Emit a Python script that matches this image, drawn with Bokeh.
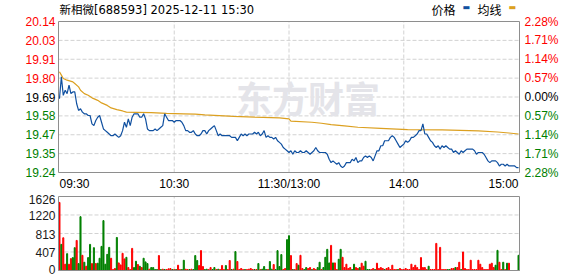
from bokeh.plotting import figure
from bokeh.models import Range1d, ColumnDataSource
from bokeh.core.properties import value
from bokeh.layouts import column
from bokeh.embed import file_html
from bokeh.resources import INLINE

# ---------------- data ----------------
title_text = "新相微[688593] 2025-12-11 15:30"
legend_labels = ["价格", "均线"]
watermark_text = "东方财富"
prev_close = 19.69
pct_steps = [-2.28, -1.71, -1.14, -0.57, 0.0, 0.57, 1.14, 1.71, 2.28]
price_labels = ["19.24", "19.35", "19.47", "19.58", "19.69", "19.80", "19.91", "20.03", "20.14"]
pct_labels = ["2.28%", "1.71%", "1.14%", "0.57%", "0.00%", "0.57%", "1.14%", "1.71%", "2.28%"]
time_ticks = [0, 60, 120, 180, 240]
time_labels = ["09:30", "10:30", "11:30/13:00", "14:00", "15:00"]
vol_ticks = [0, 407, 813, 1220, 1626]
vol_labels = ["0", "407", "813", "1220", "1626"]

price = [
    19.68, 19.81, 19.70, 19.73, 19.71, 19.76, 19.71, 19.72, 19.72, 19.65,
    19.61, 19.62, 19.60, 19.59, 19.59, 19.58, 19.58, 19.53, 19.52, 19.55,
    19.57, 19.58, 19.54, 19.50, 19.49, 19.48, 19.47, 19.46, 19.46, 19.47,
    19.46, 19.45, 19.46, 19.49, 19.54, 19.51, 19.56, 19.52, 19.57, 19.59,
    19.59, 19.59, 19.57, 19.57, 19.59, 19.56, 19.50, 19.49, 19.49, 19.49,
    19.50, 19.49, 19.50, 19.51, 19.52, 19.59, 19.57, 19.55, 19.55, 19.55,
    19.54, 19.55, 19.55, 19.55, 19.54, 19.52, 19.49, 19.49, 19.48, 19.48,
    19.49, 19.47, 19.46, 19.46, 19.47, 19.49, 19.49, 19.47, 19.49, 19.50,
    19.51, 19.52, 19.49, 19.46, 19.47, 19.46, 19.46, 19.46, 19.46, 19.46,
    19.45, 19.45, 19.45, 19.43, 19.45, 19.47, 19.46, 19.47, 19.46, 19.47,
    19.47, 19.47, 19.48, 19.47, 19.48, 19.46, 19.47, 19.49, 19.45, 19.46,
    19.45, 19.45, 19.44, 19.45, 19.43, 19.42, 19.41, 19.39, 19.38, 19.37,
    19.36, 19.37, 19.35, 19.37, 19.36, 19.36, 19.37, 19.36, 19.36, 19.37,
    19.36, 19.35, 19.36, 19.37, 19.39, 19.37, 19.36, 19.36, 19.36, 19.36,
    19.35, 19.32, 19.30, 19.31, 19.30, 19.29, 19.30, 19.28, 19.27, 19.28,
    19.30, 19.30, 19.30, 19.32, 19.31, 19.33, 19.30, 19.31, 19.31, 19.33,
    19.34, 19.33, 19.34, 19.33, 19.31, 19.34, 19.37, 19.37, 19.40, 19.40,
    19.43, 19.43, 19.43, 19.45, 19.46, 19.45, 19.43, 19.41, 19.39, 19.40,
    19.41, 19.43, 19.42, 19.43, 19.45, 19.45, 19.46, 19.47, 19.49, 19.49,
    19.53, 19.47, 19.47, 19.45, 19.43, 19.42, 19.40, 19.39, 19.40, 19.38,
    19.40, 19.39, 19.40, 19.39, 19.38, 19.38, 19.36, 19.37, 19.36, 19.35,
    19.37, 19.36, 19.37, 19.38, 19.38, 19.38, 19.38, 19.37, 19.35, 19.36,
    19.36, 19.36, 19.35, 19.33, 19.31, 19.30, 19.31, 19.31, 19.31, 19.30,
    19.28, 19.29, 19.29, 19.28, 19.29, 19.28, 19.28, 19.28, 19.28, 19.27,
    19.27,
]
minutes = list(range(len(price)))

avg_minutes = [0, 1, 2, 4, 7, 8, 10, 11, 13, 15, 17, 20, 22, 25, 27, 30, 33, 35, 40,
               48, 56, 65, 71, 76, 91, 102, 115, 120, 121, 132, 137, 142, 149, 156,
               168, 182, 200, 219, 229, 235, 240]
avg_price = [19.84, 19.82, 19.80, 19.79, 19.78, 19.77, 19.75, 19.73, 19.71, 19.70,
             19.685, 19.67, 19.655, 19.64, 19.625, 19.615, 19.607, 19.60, 19.599,
             19.597, 19.593, 19.59, 19.588, 19.584, 19.575, 19.57, 19.566, 19.56,
             19.547, 19.54, 19.534, 19.526, 19.518, 19.51, 19.504, 19.496, 19.494,
             19.488, 19.482, 19.476, 19.47]

volume = [
    1496, 574, 719, 138, 370, 138, 261, 283, 501, 661,
    152, 1183, 334, 181, 94, 283, 574, 152, 501, 152,
    160, 269, 530, 1096, 138, 356, 508, 269, 22, 44,
    726, 167, 123, 378, 254, 290, 65, 22, 486, 65,
    203, 131, 94, 65, 269, 189, 152, 29, 65, 65,
    22, 22, 328, 22, 29, 22, 22, 36, 44, 22,
    22, 22, 116, 22, 22, 225, 29, 22, 22, 29,
    22, 328, 219, 109, 437, 87, 22, 29, 22, 66,
    22, 66, 22, 29, 22, 109, 22, 109, 22, 219,
    22, 29, 415, 197, 22, 44, 22, 22, 22, 29,
    44, 22, 22, 22, 153, 22, 29, 87, 22, 22,
    197, 29, 131, 22, 437, 87, 350, 22, 44, 678,
    765, 328, 22, 22, 152, 116, 334, 44, 22, 65,
    44, 65, 22, 44, 22, 65, 181, 22, 65, 290,
    465, 167, 552, 167, 167, 22, 247, 465, 290, 65,
    138, 44, 65, 22, 138, 65, 44, 65, 160, 94,
    203, 22, 22, 22, 44, 22, 160, 44, 65, 44,
    22, 44, 65, 22, 116, 22, 22, 22, 44, 22,
    22, 44, 22, 22, 138, 65, 116, 65, 22, 283,
    65, 65, 22, 94, 22, 22, 22, 595, 22, 508,
    22, 22, 22, 22, 22, 44, 44, 65, 65, 181,
    22, 407, 44, 22, 22, 225, 22, 22, 22, 225,
    138, 65, 22, 22, 22, 138, 160, 65, 116, 443,
    181, 22, 181, 22, 160, 160, 0, 0, 0, 0,
    334,
]
# 1 = up tick (red), -1 = down tick (green)
direction = [
    1, -1, 1, 1, -1, 1, 1, -1, -1, 1,
    -1, -1, 1, -1, 1, -1, -1, 1, -1, 1,
    -1, -1, -1, -1, -1, -1, -1, 1, 1, 1,
    -1, 1, 1, 1, 1, -1, 1, 1, 1, -1,
    -1, 1, -1, 1, -1, -1, -1, 1, -1, -1,
    -1, -1, 1, -1, 1, -1, 1, 1, 1, -1,
    1, -1, 1, 1, -1, -1, 1, 1, -1, 1,
    -1, -1, -1, 1, 1, 1, -1, -1, 1, 1,
    -1, -1, 1, -1, 1, 1, 1, -1, 1, 1,
    -1, 1, -1, 1, 1, 1, 1, -1, 1, 1,
    1, 1, -1, 1, -1, 1, -1, -1, -1, 1,
    -1, -1, 1, -1, -1, -1, -1, 1, 1, -1,
    -1, 1, -1, 1, 1, -1, 1, 1, -1, -1,
    1, 1, -1, 1, 1, -1, -1, 1, -1, -1,
    -1, -1, 1, -1, 1, 1, -1, -1, 1, 1,
    1, 1, 1, -1, -1, 1, 1, -1, 1, 1,
    -1, -1, -1, 1, 1, -1, 1, 1, 1, 1,
    -1, 1, 1, 1, 1, 1, 1, -1, 1, 1,
    1, 1, 1, 1, 1, 1, 1, 1, 1, 1,
    1, 1, 1, -1, 1, 1, 1, 1, 1, 1,
    1, 1, 1, -1, -1, 1, 1, -1, 1, 1,
    -1, 1, 1, 1, 1, 1, 1, 1, 1, 1,
    1, 1, 1, 1, 1, 1, 1, 1, -1, -1,
    1, 1, -1, 1, -1, 1, 1, 1, 1, 1,
    -1,
]

# ---------------- styles / layout ----------------
RED = "#ff0000"
GREEN = "#008000"
BLUE = "#1050a0"
GOLD = "#dca020"
GRID = "#d2d2d2"
OUTLINE = "#8e8e8e"
NUM_FONT = value("Liberation Sans")
CJK_FONT = value("Noto Sans CJK SC")
TITLE_FONT = value("DejaVu Sans, Noto Sans CJK SC")

W = 578
BOX_L, BOX_R = 58, 519           # inner box, canvas px
X0, X1 = -0.5, 240.5             # data span of the inner box
PX = (BOX_R - BOX_L) / (X1 - X0)  # px per minute
xr = Range1d(X0 - BOX_L / PX, X1 + (W - BOX_R) / PX)


def y_range_for(lo, hi, top_px, box_px, height):
    per = (hi - lo) / box_px
    return Range1d(lo - (height - top_px - box_px) * per, hi + top_px * per)


def label_color(s):
    return RED if s > 0 else (GREEN if s < 0 else "#000000")


def make_fig(height, yr):
    f = figure(width=W, height=height, x_range=xr, y_range=yr,
               x_axis_type=None, y_axis_type=None, toolbar_location=None,
               output_backend="svg", min_border=0)
    f.outline_line_color = None
    f.background_fill_color = "white"
    f.border_fill_color = "white"
    return f


lo = prev_close * (1 + pct_steps[0] / 100)
hi = prev_close * (1 + pct_steps[-1] / 100)
price_ticks = [prev_close * (1 + s / 100) for s in pct_steps]

# ---------------- price chart ----------------
p = make_fig(190, y_range_for(lo, hi, 21, 151, 190))

inner_t = time_ticks[1:-1]
p.segment(x0=inner_t, y0=[lo] * len(inner_t), x1=inner_t, y1=[hi] * len(inner_t),
          line_color=GRID, line_dash="4 2", line_width=1)
inner_p = price_ticks[1:-1]
p.segment(x0=[X0] * len(inner_p), y0=inner_p, x1=[X1] * len(inner_p), y1=inner_p,
          line_color=GRID, line_dash="4 2", line_width=1)

p.text(x=[120], y=[prev_close], text=[watermark_text], x_offset=19, y_offset=0,
       text_font=CJK_FONT, text_font_size="36px", text_font_style="bold",
       text_color="#e4e4e9", text_align="center", text_baseline="middle")

p.line(avg_minutes, avg_price, line_color=GOLD, line_width=1.2)
p.line(minutes, price, line_color=BLUE, line_width=1.2)

p.quad(left=[X0], right=[X1], bottom=[lo], top=[hi], fill_color=None,
       line_color=OUTLINE, line_width=1)

p.text(x=[X0] * len(price_ticks), y=price_ticks, text=price_labels, x_offset=-3,
       text_align="right", text_baseline="middle", text_font=NUM_FONT,
       text_font_size="12px", text_color=[label_color(s) for s in pct_steps])
p.text(x=[X1] * len(price_ticks), y=price_ticks, text=pct_labels, x_offset=5,
       text_align="left", text_baseline="middle", text_font=NUM_FONT,
       text_font_size="12px", text_color=[label_color(s) for s in pct_steps])

aligns = ["left", "center", "center", "center", "right"]
p.text(x=time_ticks, y=[lo] * len(time_ticks), text=time_labels, y_offset=11,
       text_align=aligns, text_baseline="middle", text_font=NUM_FONT,
       text_font_size="12px", text_color="#000000")

# title & legend
p.text(x=[X0], y=[hi], text=[title_text], x_offset=1, y_offset=-12,
       text_font=TITLE_FONT, text_font_size="11.5px", text_color="#000000",
       text_align="left", text_baseline="middle")
p.text(x=[X1, X1], y=[hi, hi], text=legend_labels, x_offset=[-88, -42], y_offset=-12,
       text_font=CJK_FONT, text_font_size="12px", text_color="#000000",
       text_align="left", text_baseline="middle")
p.text(x=[X1, X1], y=[hi, hi], text=["▬", "▬"], x_offset=[-57, -11], y_offset=-14,
       text_font=value("DejaVu Sans"), text_font_size="8px", text_color=[BLUE, GOLD],
       text_align="left", text_baseline="middle")

# ---------------- volume chart ----------------
vmax = vol_ticks[-1]
v = make_fig(86, y_range_for(0, vmax, 6, 74, 86))

v.segment(x0=inner_t, y0=[0] * len(inner_t), x1=inner_t, y1=[vmax] * len(inner_t),
          line_color=GRID, line_dash="4 2", line_width=1)
inner_v = vol_ticks[1:-1]
v.segment(x0=[X0] * len(inner_v), y0=inner_v, x1=[X1] * len(inner_v), y1=inner_v,
          line_color=GRID, line_dash="4 2", line_width=1)

src = ColumnDataSource(dict(x=minutes, top=volume,
                            color=[RED if d > 0 else GREEN for d in direction]))
v.vbar(x="x", top="top", width=0.55, color="color", source=src)

v.quad(left=[X0], right=[X1], bottom=[0], top=[vmax], fill_color=None,
       line_color=OUTLINE, line_width=1)

v.text(x=[X0] * len(vol_ticks), y=vol_ticks, text=vol_labels, x_offset=-3,
       y_offset=[-1, 1, 1, 1, 3], text_align="right", text_baseline="middle",
       text_font=NUM_FONT, text_font_size="12px", text_color="#1a1a1a")

layout = column(p, v, spacing=0)
open("out.html", "w").write(file_html(layout, INLINE))
